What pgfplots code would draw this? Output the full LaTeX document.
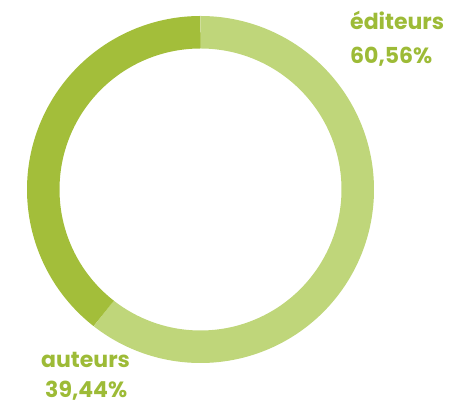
\documentclass[border=0pt]{standalone}
\usepackage{fontspec}
\setmainfont{Poppins}[BoldFont={* Bold}]
\usepackage{pgfplots}
\pgfplotsset{compat=1.18}
\definecolor{lightg}{RGB}{191,214,122}
\definecolor{darkg}{RGB}{163,190,58}
\definecolor{txtg}{RGB}{157,187,55}
\def\editeurs{60.56}
\def\auteurs{39.44}
\begin{document}
\begin{tikzpicture}[x=1pt,y=1pt]
\useasboundingbox (0,0) rectangle (457,406);
\begin{axis}[
  at={(200.5pt,216.5pt)}, anchor=center,
  width=400pt, height=400pt, scale only axis,
  xmin=-200, xmax=200, ymin=-200, ymax=200,
  hide axis, clip=false]
\addplot[lightg, line width=32.5pt, no marks, samples=240, variable=\t,
  domain=90:{90-3.6*\editeurs}] ({157.25*cos(t)},{157.25*sin(t)});
\addplot[darkg, line width=32.5pt, no marks, samples=160, variable=\t,
  domain={90-3.6*\editeurs}:{90-3.6*(\editeurs+\auteurs)}] ({157.25*cos(t)},{157.25*sin(t)});
\end{axis}
\begin{scope}[every node/.style={font=\bfseries\fontsize{22}{26}\selectfont, text=txtg, inner sep=0pt}]
\node[anchor=base west] at (350,376) {éditeurs};
\node[anchor=base west] at (350,342) {60,56\%};
\node[anchor=base west] at (41,38) {auteurs};
\node[anchor=base west] at (45,8) {39,44\%};
\end{scope}
\end{tikzpicture}
\end{document}
